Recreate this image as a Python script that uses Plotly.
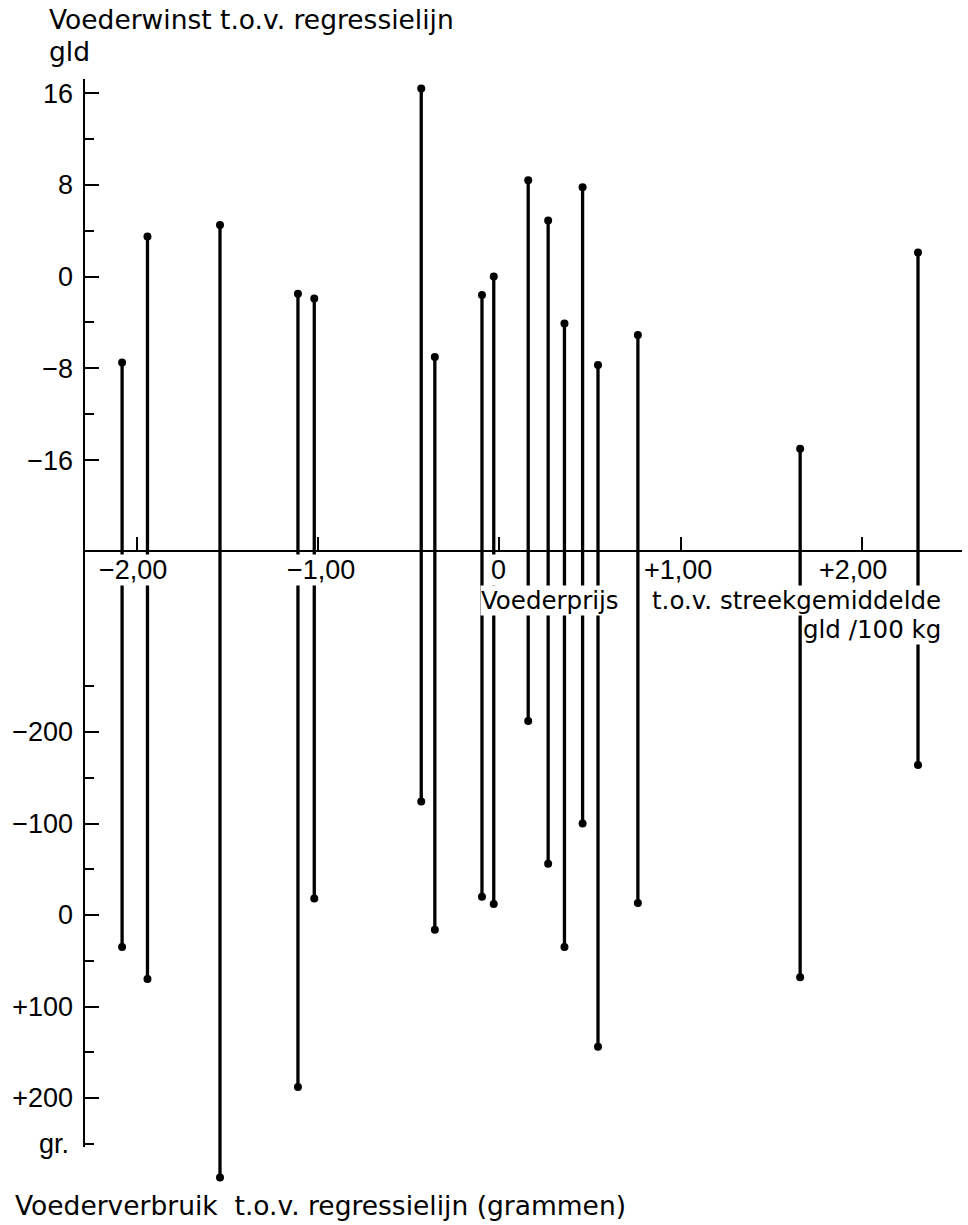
import plotly.graph_objects as go

# ---------------- data ----------------
voederprijs = [-2.08, -1.94, -1.54, -1.11, -1.02, -0.43, -0.355, -0.095, -0.03,
               0.16, 0.27, 0.36, 0.46, 0.545, 0.765, 1.66, 2.31]
voederwinst = [-7.5, 3.5, 4.5, -1.5, -1.9, 16.4, -7.0, -1.6, 0.0,
               8.4, 4.9, -4.1, 7.8, -7.7, -5.1, -15.0, 2.1]
voederverbruik = [35, 70, 287, 188, -18, -124, 16, -20, -12,
                  -212, -56, 35, -100, 144, -13, 68, -164]

upper_ticks = [16, 8, 0, -8, -16]
upper_ticktext = ["16", "8", "0", "\u22128", "\u221216"]
upper_minor = [12, 4, -4, -12]
lower_ticks = [-200, -100, 0, 100, 200]
lower_ticktext = ["\u2212200", "\u2212100", "0", "+100", "+200"]
lower_minor = [-250, -150, -50, 50, 150, 250]
x_ticks = [-2, -1, 0, 1, 2]
x_ticktext = ["\u22122,00", "\u22121,00", "0", "+1,00", "+2,00"]
x_label_shift = [-4, 3, -1, -3, -9]

# ---------------- layout constants ----------------
W, H = 968, 1225
TICKFONT = "Liberation Sans"
TITLEFONT = "DejaVu Sans"
X_DOMAIN = [84 / W, 962 / W]
X_RANGE = [-2.2901, 2.5527]
GLD_RANGE = [-82.686, 24.115]
GR_RANGE = [338.8, -1000.0]
X_AXIS_POS = 1 - 551 / H

base_gld = GLD_RANGE[0] + (GLD_RANGE[1] - GLD_RANGE[0]) * X_AXIS_POS
base_gr = GR_RANGE[0] + (GR_RANGE[1] - GR_RANGE[0]) * X_AXIS_POS

sx, sy_up, sy_lo = [], [], []
for xv, up in zip(voederprijs, voederwinst):
    sx += [xv, xv, None]
    sy_up += [up, base_gld, None]
for lo in voederverbruik:
    sy_lo += [base_gr, lo, None]

fig = go.Figure()
fig.add_trace(go.Scatter(x=sx, y=sy_up, mode="lines", yaxis="y",
                         line=dict(color="black", width=3.3), hoverinfo="skip"))
fig.add_trace(go.Scatter(x=sx, y=sy_lo, mode="lines", yaxis="y2",
                         line=dict(color="black", width=3.3), hoverinfo="skip"))
fig.add_trace(go.Scatter(x=voederprijs, y=voederwinst, mode="markers", yaxis="y",
                         marker=dict(color="black", size=8), cliponaxis=False))
fig.add_trace(go.Scatter(x=voederprijs, y=voederverbruik, mode="markers", yaxis="y2",
                         marker=dict(color="black", size=8), cliponaxis=False))

tickfont = dict(family=TICKFONT, size=27, color="black")
fig.update_layout(
    width=W, height=H,
    margin=dict(l=0, r=0, t=0, b=0),
    paper_bgcolor="white", plot_bgcolor="white",
    showlegend=False,
    font=dict(family=TICKFONT, color="black"),
    xaxis=dict(domain=X_DOMAIN, range=X_RANGE, anchor="free", position=X_AXIS_POS,
               showline=True, linecolor="black", linewidth=2,
               tickmode="array", tickvals=x_ticks, showticklabels=False,
               ticks="inside", ticklen=13, tickwidth=2, tickcolor="black",
               showgrid=False, zeroline=False),
    yaxis=dict(domain=[0, 1], range=GLD_RANGE, anchor="x",
               showline=False, showgrid=False, zeroline=False,
               tickmode="array", tickvals=upper_ticks, ticktext=upper_ticktext,
               ticks="inside", ticklen=15, tickwidth=2, tickcolor="black",
               tickfont=tickfont, ticklabelstandoff=10,
               minor=dict(tickvals=upper_minor, ticks="inside", ticklen=10,
                          tickwidth=2, tickcolor="black", showgrid=False)),
    yaxis2=dict(overlaying="y", side="left", anchor="x", range=GR_RANGE,
                showline=False, showgrid=False, zeroline=False,
                tickmode="array", tickvals=lower_ticks, ticktext=lower_ticktext,
                ticks="inside", ticklen=15, tickwidth=2, tickcolor="black",
                tickfont=tickfont, ticklabelstandoff=10,
                minor=dict(tickvals=lower_minor, ticks="inside", ticklen=10,
                           tickwidth=2, tickcolor="black", showgrid=False)),
)

# vertical axis line
fig.add_shape(type="line", xref="paper", yref="paper",
              x0=X_DOMAIN[0], x1=X_DOMAIN[0], y0=1 - 1147 / H, y1=1 - 79 / H,
              line=dict(color="black", width=2), layer="above")

ann = []
def text(t, x, y, xanchor="left", size=26.5, family=TITLEFONT, bg=None,
         xref="paper", yref="paper", xshift=0):
    d = dict(text=t, x=x, y=y, xref=xref, yref=yref, xanchor=xanchor,
             yanchor="middle", showarrow=False, xshift=xshift,
             font=dict(family=family, size=size, color="black"))
    if bg:
        d.update(bgcolor=bg, borderpad=0)
    ann.append(d)

text("Voederwinst t.o.v. regressielijn", 47 / W, 1 - 20 / H)
text("gld", 47 / W, 1 - 52 / H)
text("Voederverbruik\u00a0\u00a0t.o.v. regressielijn (grammen)", 13 / W, 1 - 1205 / H)
text("Voederprijs", 480 / W, 1 - 600 / H, xanchor="left", size=24.5, bg="white")
text("t.o.v. streekgemiddelde", 942 / W, 1 - 600 / H, xanchor="right", size=24.5, bg="white")
text("gld /100 kg", 942 / W, 1 - 630 / H, xanchor="right", size=24.5, bg="white")
text("gr.", 71 / W, 250, xanchor="right", size=27, family=TICKFONT, yref="y2")
for tv, tt, sh in zip(x_ticks, x_ticktext, x_label_shift):
    text(tt, tv, 1 - 570 / H, xanchor="center", size=27, family=TICKFONT,
         bg="white", xref="x", xshift=sh)

fig.update_layout(annotations=ann)
fig.write_html("out.html")
